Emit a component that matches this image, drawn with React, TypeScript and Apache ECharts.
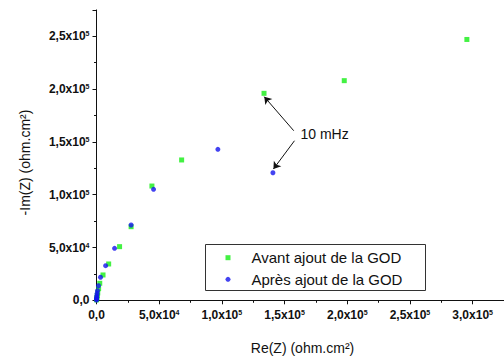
import React, { useEffect, useRef } from "react";
import * as echarts from "echarts";

const FONT = "'Liberation Sans', Arial, sans-serif";

const avantLabel = "Avant ajout de la GOD";
const apresLabel = "Après ajout de la GOD";

// [Re(Z), -Im(Z)] in ohm.cm²
const avantData: number[][] = [
  [50, 400], [150, 1200], [300, 2500], [600, 4500], [1000, 7000],
  [1700, 11000], [2600, 16100], [5200, 24000], [9700, 34400],
  [18400, 50800], [27600, 69700], [44200, 108200], [67900, 132900],
  [133600, 196000], [197600, 208000], [295400, 247000],
];
const apresData: number[][] = [
  [20, 300], [50, 800], [100, 1800], [200, 3000], [300, 4500],
  [500, 6500], [800, 9100], [1600, 13800], [3200, 21800], [7300, 32800],
  [14400, 49200], [27600, 71300], [45500, 105100], [96800, 143000],
  [140700, 120800],
];
// annotation arrows for "10 mHz" (data coordinates)
const arrow1 = [[157300, 160600], [133800, 192800]];
const arrow2 = [[157900, 151100], [141100, 124300]];
const annotationText = "10 mHz";

const xName = "Re(Z) (ohm.cm²)";
const yName = "-Im(Z) (ohm.cm²)";

function fmt(v: number): string {
  if (v === 0) return "{a|0,0}";
  if (v % 50000 !== 0) return "";
  const exp = Math.floor(Math.log10(v) + 1e-9);
  const m = v / Math.pow(10, exp);
  return `{a|${m.toFixed(1).replace(".", ",")}x10}{s|${exp}}`;
}

const rich = {
  a: { fontSize: 12, fontWeight: "bold", fontFamily: FONT, color: "#111" },
  s: { fontSize: 7, fontWeight: "bold", fontFamily: FONT, color: "#111", verticalAlign: "top" },
};

export default function App() {
  const ref = useRef<HTMLDivElement>(null);
  useEffect(() => {
    if (!ref.current) return;
    const chart = echarts.init(ref.current, null, { renderer: "svg" });
    const axisCommon = {
      type: "value",
      interval: 50000,
      min: 0,
      splitLine: { show: false },
      axisLine: { show: true, lineStyle: { color: "#111", width: 1 } },
      axisTick: { show: true, inside: false, length: 4, lineStyle: { color: "#111" } },
      minorTick: { show: true, splitNumber: 2, length: 2.5, lineStyle: { color: "#111" } },
    };
    chart.setOption({
      animation: false,
      grid: { left: 96.5, top: 9.9, width: 411.8, height: 290.4 },
      xAxis: {
        ...axisCommon,
        max: 325000,
        axisLabel: { formatter: fmt, rich, margin: 9, showMaxLabel: false },
      },
      yAxis: {
        ...axisCommon,
        max: 275000,
        axisLabel: { formatter: fmt, rich, margin: 7 },
      },
      legend: {
        orient: "vertical",
        left: 225.5,
        top: 248.7,
        padding: 0,
        itemWidth: 5,
        itemHeight: 5,
        itemGap: 3.6,
        z: 10,
        textStyle: { fontSize: 15, fontFamily: FONT, color: "#111", lineHeight: 18, padding: [0, 0, 0, 16] },
        data: [
          { name: avantLabel, icon: "rect" },
          { name: apresLabel, icon: "circle" },
        ],
      },
      graphic: [
        {
          type: "rect",
          z: 5,
          shape: { x: 205.5, y: 244.5, width: 220, height: 46 },
          style: { fill: "#fff", stroke: "#333", lineWidth: 1 },
        },
        {
          type: "text",
          x: 300.5,
          y: 134.3,
          style: { text: annotationText, fontSize: 14, fontFamily: FONT, fill: "#111", verticalAlign: "middle" },
        },
        {
          type: "text",
          x: 302.5,
          y: 347.7,
          style: { text: xName, fontSize: 14, fontFamily: FONT, fill: "#111", align: "center", verticalAlign: "middle" },
        },
        {
          type: "text",
          x: 25,
          y: 162.5,
          rotation: Math.PI / 2,
          style: { text: yName, fontSize: 14, fontFamily: FONT, fill: "#111", align: "center", verticalAlign: "middle" },
        },
      ],
      series: [
        {
          name: avantLabel,
          type: "scatter",
          symbol: "rect",
          symbolSize: 5,
          clip: false,
          itemStyle: { color: "#14ee14" },
          data: avantData,
        },
        {
          name: apresLabel,
          type: "scatter",
          symbol: "circle",
          symbolSize: 5,
          clip: false,
          itemStyle: { color: "#1414ee" },
          data: apresData,
          markLine: {
            silent: true,
            symbol: ["none", "arrow"],
            symbolSize: 7,
            label: { show: false },
            lineStyle: { color: "#111", width: 1, type: "solid" },
            data: [
              [{ coord: arrow1[0] }, { coord: arrow1[1] }],
              [{ coord: arrow2[0] }, { coord: arrow2[1] }],
            ],
          },
        },
      ],
    });
    return () => chart.dispose();
  }, []);
  return (
    <div
      ref={ref}
      style={{ position: "absolute", left: 0, top: 0, width: 504, height: 360, background: "#fff" }}
    />
  );
}
